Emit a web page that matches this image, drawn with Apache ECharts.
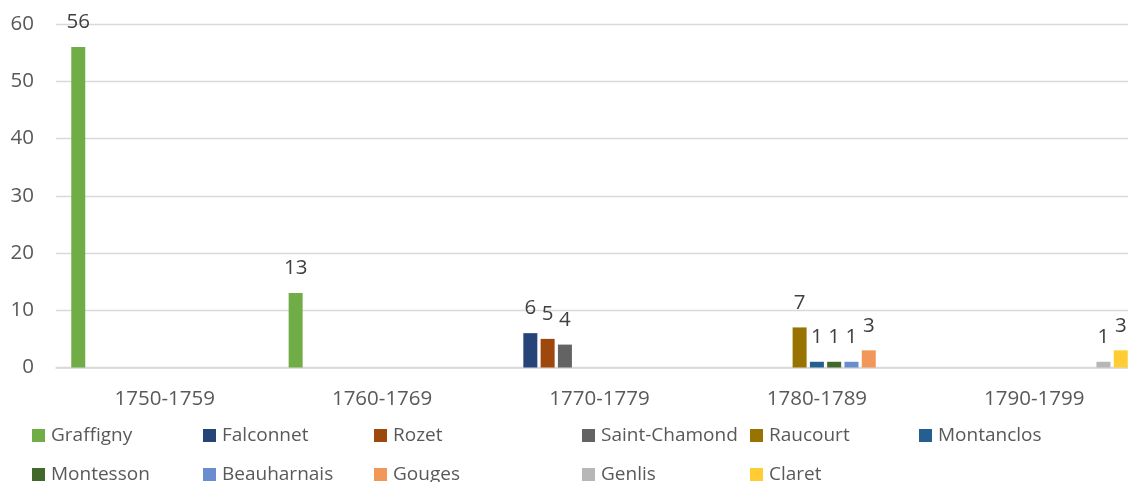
<!DOCTYPE html>
<html>
<head>
<meta charset="utf-8">
<script src="https://cdn.jsdelivr.net/npm/echarts@6/dist/echarts.min.js"></script>
<style>html,body{margin:0;padding:0;background:#fff}#c{width:1128px;height:482px}</style>
</head>
<body>
<div id="c"></div>
<script>
var categories = ['1750-1759', '1760-1769', '1770-1779', '1780-1789', '1790-1799'];
var seriesNames = ['Graffigny', 'Falconnet', 'Rozet', 'Saint-Chamond', 'Raucourt', 'Montanclos', 'Montesson', 'Beauharnais', 'Gouges', 'Genlis', 'Claret'];
var colors = ['#70AD47', '#264478', '#9E480E', '#636363', '#997300', '#255E91', '#43682B', '#698ED0', '#F1975A', '#B7B7B7', '#FFCD33'];
var Graffigny = [56, 13, null, null, null];
var Falconnet = [null, null, 6, null, null];
var Rozet = [null, null, 5, null, null];
var SaintChamond = [null, null, 4, null, null];
var Raucourt = [null, null, null, 7, null];
var Montanclos = [null, null, null, 1, null];
var Montesson = [null, null, null, 1, null];
var Beauharnais = [null, null, null, 1, null];
var Gouges = [null, null, null, 3, null];
var Genlis = [null, null, null, null, 1];
var Claret = [null, null, null, null, 3];
var seriesData = [Graffigny, Falconnet, Rozet, SaintChamond, Raucourt, Montanclos, Montesson, Beauharnais, Gouges, Genlis, Claret];
var yTicks = [0, 10, 20, 30, 40, 50, 60];

// legend layout (marker left x, top y)
var legendPos = [[32, 426], [203, 426], [374, 426], [582, 426], [750, 426], [919, 426],
                 [32, 465], [203, 465], [374, 465], [582, 465], [750, 465]];

var font = '"Open Sans", sans-serif';
var txt = '#595959';

var legends = seriesNames.map(function (n, i) {
  return {
    data: [n], left: legendPos[i][0], top: legendPos[i][1], padding: 0,
    icon: 'rect', itemWidth: 13, itemHeight: 13, itemGap: 0,
    textStyle: { color: txt, fontSize: 19, fontFamily: font, padding: [0, 0, 0, 1] },
    selectedMode: false
  };
});

var series = seriesNames.map(function (n, i) {
  return {
    name: n, type: 'bar', data: seriesData[i],
    barWidth: 14, barGap: '23.5%',
    itemStyle: { color: colors[i] },
    label: { show: true, position: 'top', distance: 14, color: '#404040', fontSize: 20.5, fontFamily: font },
    animation: false
  };
});

var chart = echarts.init(document.getElementById('c'), null, { renderer: 'canvas' });
chart.setOption({
  animation: false,
  color: colors,
  grid: { left: 56, width: 1087, top: 24, bottom: 114.5, containLabel: false, outerBoundsMode: 'none' },
  legend: legends,
  xAxis: {
    type: 'category', data: categories,
    axisLine: { show: true, lineStyle: { color: '#D9D9D9', width: 1.5 } },
    axisTick: { show: false },
    axisLabel: { color: txt, fontSize: 20.5, fontFamily: font, margin: 21 }
  },
  yAxis: {
    type: 'value', min: yTicks[0], max: yTicks[yTicks.length - 1], interval: 10,
    axisLine: { show: false }, axisTick: { show: false },
    splitLine: { lineStyle: { color: '#D9D9D9', width: 1.3 } },
    axisLabel: { color: txt, fontSize: 20.5, fontFamily: font, margin: 22 }
  },
  series: series
});
</script>
</body>
</html>
